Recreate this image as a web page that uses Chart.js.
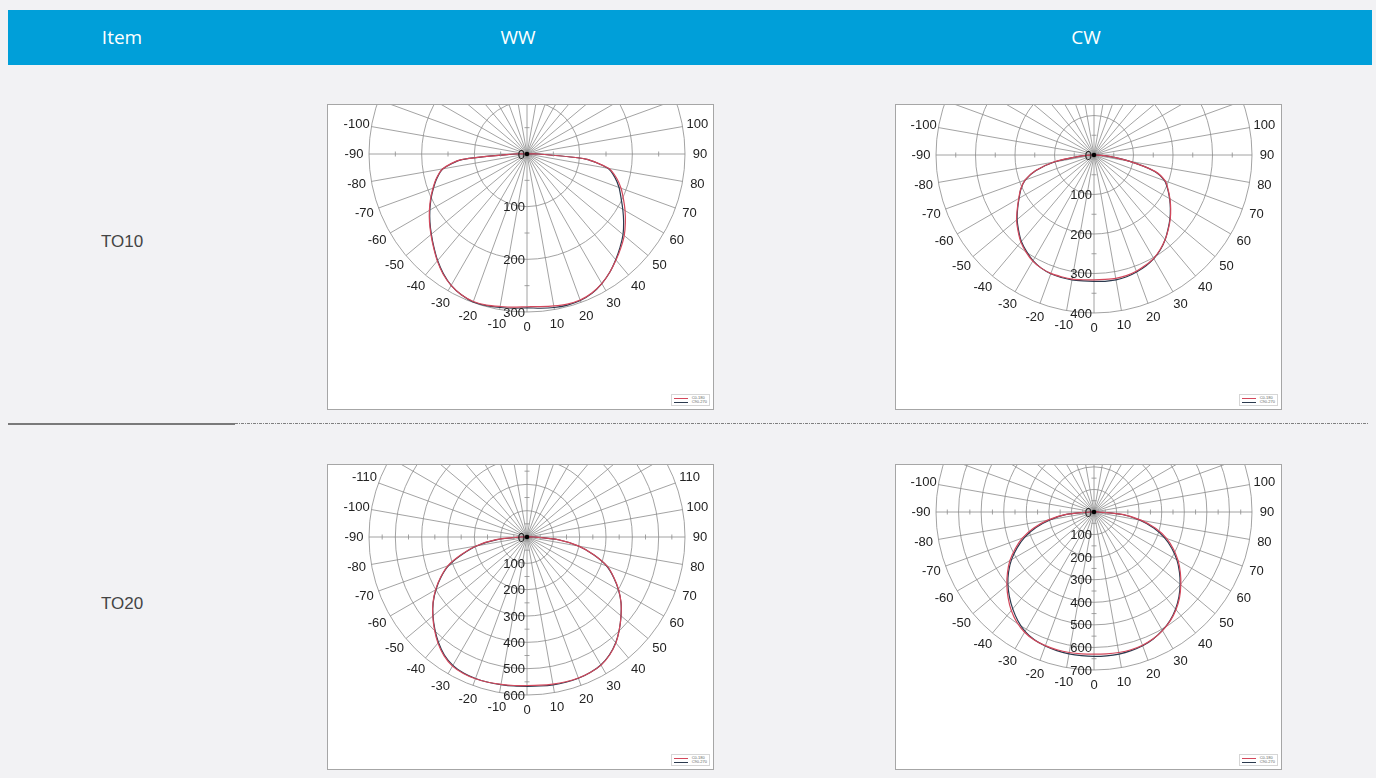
<!DOCTYPE html>
<html>
<head>
<meta charset="utf-8">
<title>TO10 / TO20 light distribution</title>
<script src="https://cdn.jsdelivr.net/npm/chart.js@4.4.1/dist/chart.umd.min.js"></script>
<style>
  html, body { margin: 0; padding: 0; }
  body {
    width: 1376px; height: 778px; position: relative; overflow: hidden;
    background: #f2f2f4;
    font-family: 'Liberation Sans', Arial, sans-serif;
  }
  .head {
    position: absolute; left: 8px; top: 10px; width: 1364px; height: 55px;
    background: #009fd9;
  }
  .head span {
    position: absolute; top: 0; line-height: 55px; color: #fff;
    font-family: 'Open Sans', sans-serif; font-size: 19px;
    transform: translateX(-50%);
  }
  .row-name {
    position: absolute; font-size: 17px; color: #444;
    transform: translate(-50%, -50%);
  }
  .sep-solid { position: absolute; left: 8px; top: 423px; width: 227px; height: 2px; background: #7a7a7a; }
  .sep-dot {
    position: absolute; left: 235px; top: 423px; width: 1134px; height: 1px;
    background: repeating-linear-gradient(to right, #808080 0 3px, transparent 3px 4px, #808080 4px 5px, transparent 5px 6px);
  }
  .plot {
    position: absolute; width: 387px; height: 306px; box-sizing: border-box;
    border: 1px solid #a6a6a6; background: #fff; overflow: hidden;
  }
  .plot canvas { position: absolute; }
  .key {
    position: absolute; right: 3px; bottom: 3px; padding: 1px 2px;
    border: 1px solid #d6d6d6; background: #fff;
    font-size: 4px; line-height: 4px; color: #666;
  }
  .key div { display: flex; align-items: center; height: 4px; }
  .key i { display: inline-block; width: 14px; height: 1px; margin-right: 4px; }
</style>
</head>
<body>

<div class="head" id="head"></div>
<div class="sep-solid"></div>
<div class="sep-dot"></div>

<script>
// table texts
const colNames = ['Item', 'WW', 'CW'];
const colCenters = [122, 518, 1086];
const rowNames = ['TO10', 'TO20'];
const rowCenters = [242, 604];
const seriesNames = ['C0-180', 'C90-270'];
const seriesColors = ['#d4485c', '#2b3a4e'];

// measured gamma angles (deg), 0 = straight down
const gammaAngles = [-90, -85, -80, -75, -70, -65, -60, -55, -50, -45, -40, -35, -30, -25, -20, -15, -10, -5, 0,
  5, 10, 15, 20, 25, 30, 35, 40, 45, 50, 55, 60, 65, 70, 75, 80, 85, 90];

// TO10 WW (cd)
const to10wwC0 = [25, 127, 163, 178, 190, 202, 214, 226, 238, 251, 265, 278, 288, 295, 298, 297, 294, 292, 290,
  291, 293, 295, 295, 291, 284, 274, 263, 252, 241, 228, 215, 202, 190, 176, 158, 112, 22];
const to10wwC90 = [22, 124, 162, 177, 189, 201, 213, 225, 237, 250, 264, 277, 288, 295, 299, 298, 296, 294, 292,
  294, 296, 297, 296, 292, 284, 274, 262, 250, 238, 224, 210, 197, 186, 173, 156, 112, 22];

// TO10 CW (cd)
const to10cwC0 = [5, 35, 105, 154, 186, 205, 220, 237, 256, 272, 288, 300, 310, 316, 319, 319, 319, 317, 316,
  316, 317, 316, 313, 308, 302, 292, 280, 266, 252, 237, 222, 207, 192, 160, 92, 35, 5];
const to10cwC90 = [5, 34, 102, 152, 185, 204, 219, 236, 254, 270, 286, 298, 309, 316, 320, 321, 321, 320, 320,
  321, 321, 319, 315, 310, 303, 293, 280, 265, 251, 236, 221, 206, 190, 158, 90, 34, 5];

// TO20 WW (cd)
const to20wwC0 = [25, 118, 196, 258, 320, 362, 401, 436, 467, 497, 526, 550, 566, 572, 573, 571, 568, 566, 564,
  565, 567, 569, 570, 568, 562, 547, 525, 496, 466, 436, 402, 364, 324, 264, 200, 122, 28];
const to20wwC90 = [22, 114, 192, 254, 316, 360, 399, 435, 466, 495, 523, 547, 563, 570, 572, 571, 569, 568, 567,
  568, 570, 571, 571, 568, 561, 546, 524, 496, 466, 436, 401, 363, 322, 262, 198, 120, 26];

// TO20 CW (cd)
const to20cwC0 = [20, 130, 208, 278, 338, 385, 430, 468, 504, 538, 570, 596, 615, 626, 630, 632, 632, 631, 630,
  631, 632, 632, 628, 620, 607, 589, 565, 536, 502, 467, 430, 388, 342, 284, 214, 132, 20];
const to20cwC90 = [18, 122, 196, 266, 326, 376, 422, 462, 498, 530, 560, 588, 611, 625, 632, 636, 638, 639, 640,
  640, 639, 636, 631, 621, 606, 587, 562, 532, 498, 462, 424, 380, 332, 274, 204, 126, 18];

// ring limits and spacing of the radial scale
const to10wwMax = 300;
const to10cwMax = 400;
const to20wwMax = 600;
const to20cwMax = 700;
const ringStep = 100;

const ANGLE_STEP = 5;
const RADIUS = 158;
const CANVAS_SIZE = 420;
const gridColor = '#8c8c8c';

// radar labels, going clockwise from the bottom: 0, -5, ... -180, 175, ... 5
function buildAngleLabels() {
  const labels = [];
  for (let i = 0; i < 360 / ANGLE_STEP; i++) {
    let a = -i * ANGLE_STEP;
    if (a < -180) a += 360;
    labels.push(a === -180 ? 180 : a);
  }
  return labels;
}
const angleLabels = buildAngleLabels();

// series values placed on the radar labels (0 outside the measured range)
function toRadar(values) {
  return angleLabels.map(a => {
    const idx = gammaAngles.indexOf(a);
    return idx >= 0 ? values[idx] : 0;
  });
}

// labels, axis ticks and centre dot
const polarDecor = {
  id: 'polarDecor',
  afterDraw(chart, args, opts) {
    const r = chart.scales.r;
    const ctx = chart.ctx;
    ctx.save();

    // small ticks half way between rings on the main axes
    ctx.strokeStyle = gridColor;
    ctx.lineWidth = 0.8;
    [0, 90, 180, -90].forEach(deg => {
      const i = angleLabels.indexOf(deg);
      const a = r.getIndexAngle(i);
      for (let v = ringStep / 2; v < opts.max; v += ringStep) {
        const p = r.getPointPositionForValue(i, v);
        ctx.beginPath();
        ctx.moveTo(p.x - Math.cos(a) * 2.5, p.y - Math.sin(a) * 2.5);
        ctx.lineTo(p.x + Math.cos(a) * 2.5, p.y + Math.sin(a) * 2.5);
        ctx.stroke();
      }
    });

    ctx.fillStyle = '#222';
    ctx.font = '13px "Liberation Sans", Arial, sans-serif';

    // gamma labels round the outer ring
    ctx.textAlign = 'center';
    ctx.textBaseline = 'middle';
    angleLabels.forEach((a, i) => {
      if (a % 10 !== 0) return;
      const p = r.getPointPosition(i, r.drawingArea + 15);
      ctx.fillText(String(a), p.x, p.y);
    });

    // intensity labels along the 0 deg axis
    ctx.textAlign = 'right';
    for (let v = 0; v <= opts.max; v += ringStep) {
      const p = r.getPointPositionForValue(0, v);
      ctx.fillText(String(v), p.x - 2, p.y + 1);
    }

    ctx.beginPath();
    ctx.arc(r.xCenter, r.yCenter, 2.3, 0, Math.PI * 2);
    ctx.fillStyle = '#000';
    ctx.fill();
    ctx.restore();
  }
};

function addPlot(left, top, cx, cy, max, c0, c90) {
  const box = document.createElement('div');
  box.className = 'plot';
  box.style.left = left + 'px';
  box.style.top = top + 'px';

  const canvas = document.createElement('canvas');
  canvas.width = CANVAS_SIZE;
  canvas.height = CANVAS_SIZE;
  canvas.style.left = (cx - CANVAS_SIZE / 2 - 1) + 'px';
  canvas.style.top = (cy - CANVAS_SIZE / 2 - 1) + 'px';
  box.appendChild(canvas);

  // small legend in the corner
  const key = document.createElement('div');
  key.className = 'key';
  seriesNames.forEach((name, k) => {
    const row = document.createElement('div');
    row.innerHTML = '<i style="background:' + seriesColors[k] + '"></i>' + name;
    key.appendChild(row);
  });
  box.appendChild(key);
  document.body.appendChild(box);

  const pad = CANVAS_SIZE / 2 - RADIUS;
  new Chart(canvas.getContext('2d'), {
    type: 'radar',
    data: {
      labels: angleLabels,
      datasets: [c0, c90].map((values, k) => ({
        label: seriesNames[k],
        data: toRadar(values),
        borderColor: seriesColors[k],
        borderWidth: 1.2,
        pointRadius: 0,
        fill: false,
        tension: 0.25
      }))
    },
    options: {
      responsive: false,
      animation: false,
      events: [],
      layout: { padding: pad },
      scales: {
        r: {
          min: 0,
          max: max,
          startAngle: 180,
          ticks: { display: false, stepSize: ringStep },
          pointLabels: { display: false },
          grid: { circular: true, color: gridColor, lineWidth: 0.8 },
          angleLines: {
            color: gridColor,
            lineWidth: ctx => (angleLabels[ctx.index] % 10 === 0 ? 0.8 : 0)
          }
        }
      },
      plugins: {
        legend: { display: false },
        tooltip: { enabled: false },
        polarDecor: { max: max }
      }
    },
    plugins: [polarDecor]
  });
}

// header and row names
const head = document.getElementById('head');
colNames.forEach((name, k) => {
  const s = document.createElement('span');
  s.textContent = name;
  s.style.left = (colCenters[k] - 8) + 'px';
  head.appendChild(s);
});
rowNames.forEach((name, k) => {
  const d = document.createElement('div');
  d.className = 'row-name';
  d.textContent = name;
  d.style.left = colCenters[0] + 'px';
  d.style.top = rowCenters[k] + 'px';
  document.body.appendChild(d);
});

addPlot(327, 104, 200, 50, to10wwMax, to10wwC0, to10wwC90);
addPlot(895, 104, 199, 51, to10cwMax, to10cwC0, to10cwC90);
addPlot(327, 464, 200, 73, to20wwMax, to20wwC0, to20wwC90);
addPlot(895, 464, 199, 48, to20cwMax, to20cwC0, to20cwC90);
</script>
</body>
</html>
